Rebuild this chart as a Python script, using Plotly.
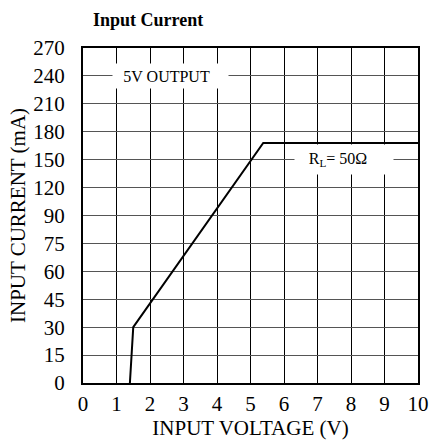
import numpy as np
import plotly.graph_objects as go

# Data
voltage = [1.4, 1.5, 5.38, 10.0]
current_ma = [0, 30, 168, 168]

x_ticks = [0, 1, 2, 3, 4, 5, 6, 7, 8, 9, 10]
y_tick_values = [0, 15, 30, 45, 60, 75, 90, 120, 150, 180, 210, 240, 270]
y_tick_labels = [str(v) for v in y_tick_values]

# The axis is piecewise-linear: evenly spaced gridlines with uneven values
y_pos_ticks = list(range(len(y_tick_values)))
def to_axis(v):
    return np.interp(v, y_tick_values, y_pos_ticks)

font_family = "Liberation Serif, Times New Roman, serif"

fig = go.Figure()
fig.add_trace(go.Scatter(
    x=voltage, y=to_axis(current_ma), mode="lines",
    line=dict(color="black", width=2), showlegend=False, hoverinfo="skip"))

fig.update_layout(
    width=430, height=441,
    margin=dict(l=83, r=12, t=48, b=58),
    paper_bgcolor="white", plot_bgcolor="white",
    font=dict(family=font_family, size=21, color="black"),
    title=dict(text="<b>Input Current</b>", x=93/430, xanchor="left",
               y=1 - 20/441, yanchor="middle",
               font=dict(family=font_family, size=18, color="black")),
    xaxis=dict(range=[0, 10], tickvals=x_ticks, ticktext=[str(t) for t in x_ticks],
               showgrid=True, gridcolor="black", gridwidth=1,
               showline=True, linecolor="black", linewidth=2, mirror=True,
               zeroline=False, ticks="", ticklabelstandoff=1, automargin=False,
               tickfont=dict(family=font_family, size=21),
               title=dict(text="INPUT VOLTAGE (V)", standoff=4,
                          font=dict(family=font_family, size=21))),
    yaxis=dict(range=[0, 12], tickvals=y_pos_ticks, ticktext=y_tick_labels,
               showgrid=True, gridcolor="#555555", gridwidth=1,
               showline=True, linecolor="black", linewidth=2, mirror=True,
               zeroline=False, ticks="", ticklabelstandoff=12, automargin=False,
               tickfont=dict(family=font_family, size=21),
               title=dict(text="INPUT CURRENT (mA)", standoff=2,
                          font=dict(family=font_family, size=21))),
)

fig.add_annotation(x=(170 - 83) / 33.5, y=to_axis(240), text="5V OUTPUT&nbsp;&nbsp;",
                   showarrow=False, bgcolor="white", width=111, height=20, align="center",
                   font=dict(family=font_family, size=16),
                   borderpad=2, xanchor="center", yanchor="middle")
fig.add_annotation(x=(344 - 83) / 33.5, y=to_axis(150), text="R<sub>L</sub>= 50Ω&nbsp;&nbsp;&nbsp;",
                   showarrow=False, bgcolor="white", width=94, height=25, align="center",
                   font=dict(family=font_family, size=16),
                   borderpad=2, xanchor="center", yanchor="middle")

fig.write_html("out.html", config={"displayModeBar": False},
               post_script="document.body.style.margin='0';document.body.style.padding='0';")
